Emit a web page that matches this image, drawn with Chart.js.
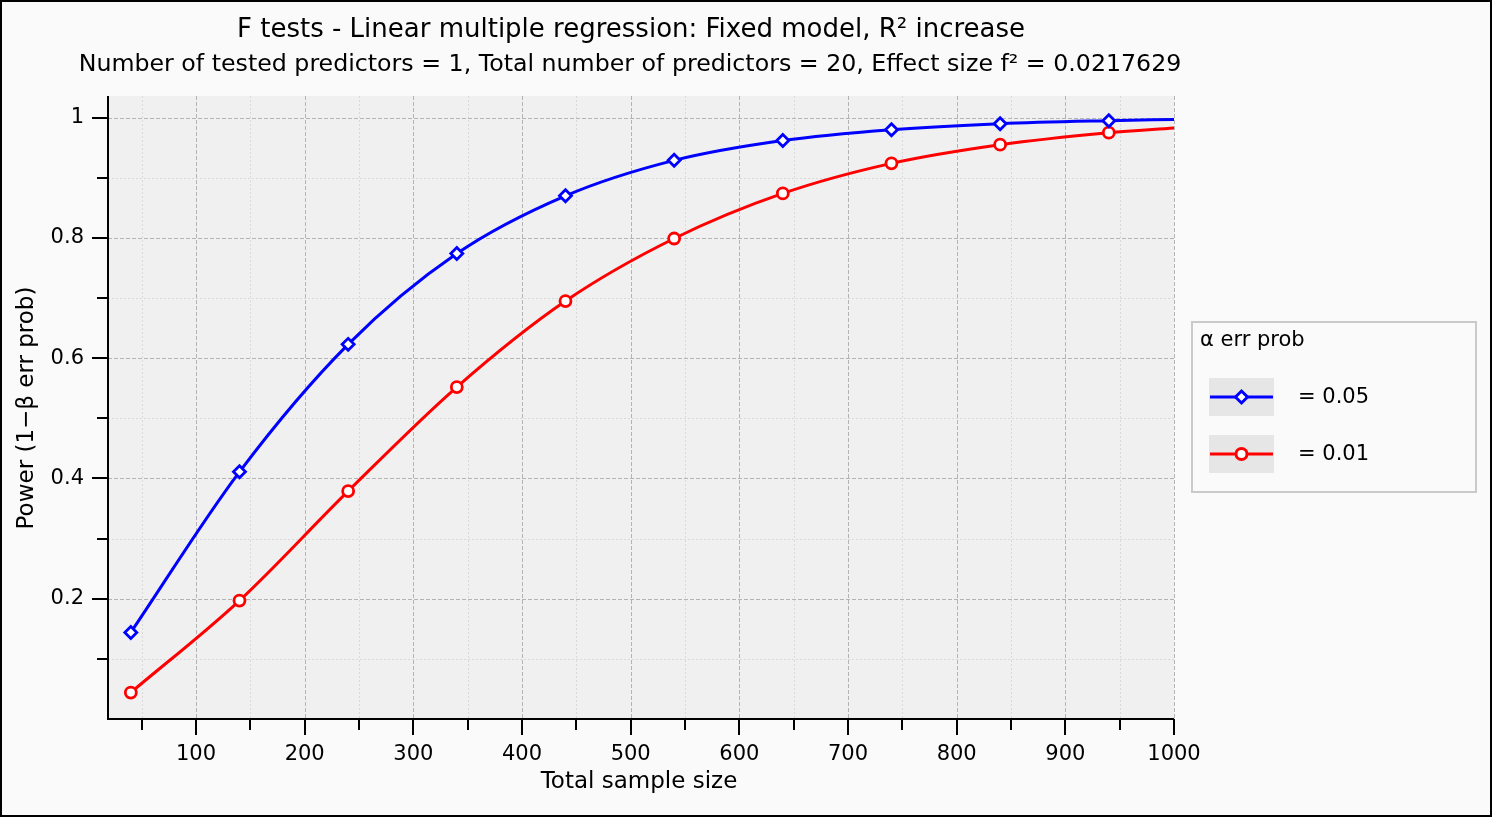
<!DOCTYPE html>
<html>
<head>
<meta charset="utf-8">
<script src="https://cdn.jsdelivr.net/npm/chart.js@4/dist/chart.umd.min.js"></script>
<style>
html, body { margin: 0; padding: 0; background: #fafafa; }
#wrap { width: 1492px; height: 817px; }
</style>
</head>
<body>
<div id="wrap"><canvas id="power"></canvas></div>
<script>
// power curves, alpha = 0.05 and alpha = 0.01
const sampleSizes = [40, 140, 240, 340, 440, 540, 640, 740, 840, 940, 1000];
const power05 = [0.144, 0.411, 0.623, 0.774, 0.870, 0.929, 0.962, 0.980, 0.990, 0.995, 0.997];
const power01 = [0.044, 0.197, 0.379, 0.552, 0.695, 0.799, 0.874, 0.924, 0.955, 0.975, 0.983];
const alphaLevels = ['0.05', '0.01'];

const xTicks = [50, 100, 150, 200, 250, 300, 350, 400, 450, 500, 550, 600, 650, 700, 750, 800, 850, 900, 950, 1000];
const yTicks = [0.1, 0.2, 0.3, 0.4, 0.5, 0.6, 0.7, 0.8, 0.9, 1.0];
const xMin = 19, xMax = 1000;
const yMin = 0, yMax = 1.036;

const titleText = 'F tests - Linear multiple regression: Fixed model, R\u00b2 increase';
const subtitleText = 'Number of tested predictors = 1, Total number of predictors = 20, Effect size f\u00b2 = 0.0217629';

const FONT = "'DejaVu Sans', sans-serif";
Chart.defaults.font.family = FONT;
Chart.defaults.color = '#000';

const toPoints = vals => vals.map((v, i) => ({ x: sampleSizes[i], y: v }));
const isMajorX = v => v % 100 === 0;
const isMajorY = v => Math.round(v * 10) % 2 === 0;

const plotDecor = {
  id: 'plotDecor',
  beforeDraw(chart) {
    const { ctx, chartArea: a, scales: { x, y } } = chart;
    ctx.save();
    ctx.fillStyle = '#fafafa';
    ctx.fillRect(0, 0, chart.width, chart.height);
    ctx.fillStyle = '#f0f0f0';
    ctx.fillRect(a.left, a.top, a.right - a.left, a.bottom - a.top);

    ctx.lineWidth = 1;
    x.ticks.forEach(t => {
      const px = Math.round(x.getPixelForValue(t.value)) + 0.5;
      const major = isMajorX(t.value);
      ctx.strokeStyle = major ? '#b4b4b4' : '#d9d9d9';
      ctx.setLineDash(major ? [4, 2] : [2, 2]);
      ctx.beginPath(); ctx.moveTo(px, a.top); ctx.lineTo(px, a.bottom); ctx.stroke();
    });
    y.ticks.forEach(t => {
      const py = Math.round(y.getPixelForValue(t.value)) + 0.5;
      const major = isMajorY(t.value);
      ctx.strokeStyle = major ? '#b4b4b4' : '#d9d9d9';
      ctx.setLineDash(major ? [4, 2] : [2, 2]);
      ctx.beginPath(); ctx.moveTo(a.left, py); ctx.lineTo(a.right, py); ctx.stroke();
    });
    ctx.restore();
  },
  afterDraw(chart) {
    const { ctx, chartArea: a, scales: { x, y } } = chart;
    ctx.save();

    // axis lines and tick marks
    ctx.strokeStyle = '#000';
    ctx.lineWidth = 2;
    ctx.beginPath();
    ctx.moveTo(a.left, a.top); ctx.lineTo(a.left, a.bottom); ctx.lineTo(a.right, a.bottom);
    ctx.stroke();
    x.ticks.forEach(t => {
      const px = Math.round(x.getPixelForValue(t.value));
      ctx.beginPath(); ctx.moveTo(px, a.bottom); ctx.lineTo(px, a.bottom + (isMajorX(t.value) ? 16 : 11)); ctx.stroke();
    });
    y.ticks.forEach(t => {
      const py = Math.round(y.getPixelForValue(t.value));
      ctx.beginPath(); ctx.moveTo(a.left, py); ctx.lineTo(a.left - (isMajorY(t.value) ? 16 : 11), py); ctx.stroke();
    });

    // titles
    ctx.fillStyle = '#000';
    ctx.textAlign = 'center';
    ctx.textBaseline = 'middle';
    ctx.font = '26px ' + FONT;
    ctx.fillText(titleText, 631, 30);
    ctx.font = '23.7px ' + FONT;
    ctx.fillText(subtitleText, 630, 65);

    // axis titles
    ctx.font = '23px ' + FONT;
    ctx.fillText('Total sample size', (a.left + a.right) / 2 - 2, 782);
    ctx.save();
    ctx.translate(27, 408);
    ctx.rotate(-Math.PI / 2);
    ctx.fillText('Power (1\u2212\u03b2 err prob)', 0, 0);
    ctx.restore();

    // legend box
    ctx.fillStyle = '#fafafa';
    ctx.fillRect(1192, 322, 284, 170);
    ctx.strokeStyle = '#cacaca';
    ctx.lineWidth = 2;
    ctx.strokeRect(1192, 322, 284, 170);
    ctx.fillStyle = '#000';
    ctx.textAlign = 'left';
    ctx.font = '21px ' + FONT;
    ctx.fillText('\u03b1 err prob', 1200, 341);
    chart.data.datasets.forEach((ds, i) => {
      const cy = 397 + i * 57;
      ctx.fillStyle = '#e6e6e6';
      ctx.fillRect(1209, cy - 19, 65, 38);
      ctx.strokeStyle = ds.borderColor;
      ctx.lineWidth = ds.borderWidth;
      ctx.beginPath(); ctx.moveTo(1210, cy); ctx.lineTo(1273, cy); ctx.stroke();
      ctx.fillStyle = '#fff';
      Chart.helpers.drawPoint(ctx, {
        pointStyle: ds.pointStyle, radius: ds.markerRadius, borderWidth: ds.pointBorderWidth, rotation: 0
      }, 1241.5, cy);
      ctx.fillStyle = '#000';
      ctx.fillText('= ' + alphaLevels[i], 1298, cy + 1);
    });

    // outer frame
    ctx.strokeStyle = '#000';
    ctx.lineWidth = 2;
    ctx.strokeRect(1, 1, chart.width - 2, chart.height - 2);
    ctx.restore();
  }
};

const markerAt = r => ctx => (ctx.raw && ctx.raw.x === xMax ? 0 : r);

new Chart(document.getElementById('power'), {
  type: 'line',
  data: {
    datasets: [
      {
        label: '\u03b1 = ' + alphaLevels[0],
        data: toPoints(power05),
        borderColor: '#0000ff',
        borderWidth: 3,
        pointStyle: 'rectRot',
        markerRadius: 6,
        pointRadius: markerAt(6),
        pointBackgroundColor: '#fff',
        pointBorderColor: '#0000ff',
        pointBorderWidth: 2.8,
        cubicInterpolationMode: 'monotone'
      },
      {
        label: '\u03b1 = ' + alphaLevels[1],
        data: toPoints(power01),
        borderColor: '#ff0000',
        borderWidth: 3,
        pointStyle: 'circle',
        markerRadius: 5.5,
        pointRadius: markerAt(5.5),
        pointBackgroundColor: '#fff',
        pointBorderColor: '#ff0000',
        pointBorderWidth: 2.8,
        cubicInterpolationMode: 'monotone'
      }
    ]
  },
  options: {
    responsive: true,
    maintainAspectRatio: false,
    animation: false,
    layout: { padding: { top: 96, right: 318, left: 0, bottom: 0 } },
    plugins: {
      legend: { display: false },
      title: { display: false },
      tooltip: { enabled: false }
    },
    scales: {
      x: {
        type: 'linear',
        min: xMin,
        max: xMax,
        afterBuildTicks: s => { s.ticks = xTicks.map(v => ({ value: v })); },
        afterFit: s => { s.height = 98; },
        grid: { display: false },
        border: { display: false },
        ticks: {
          autoSkip: false,
          maxRotation: 0,
          padding: 15,
          font: { size: 21 },
          callback: v => (isMajorX(v) ? String(v) : '')
        }
      },
      y: {
        type: 'linear',
        min: yMin,
        max: yMax,
        afterBuildTicks: s => { s.ticks = yTicks.map(v => ({ value: v })); },
        afterFit: s => { s.width = 108; },
        grid: { display: false },
        border: { display: false },
        ticks: {
          autoSkip: false,
          padding: 16,
          font: { size: 21 },
          callback: v => (isMajorY(v) ? String(+v.toFixed(1)) : '')
        }
      }
    }
  },
  plugins: [plotDecor]
});
</script>
</body>
</html>
